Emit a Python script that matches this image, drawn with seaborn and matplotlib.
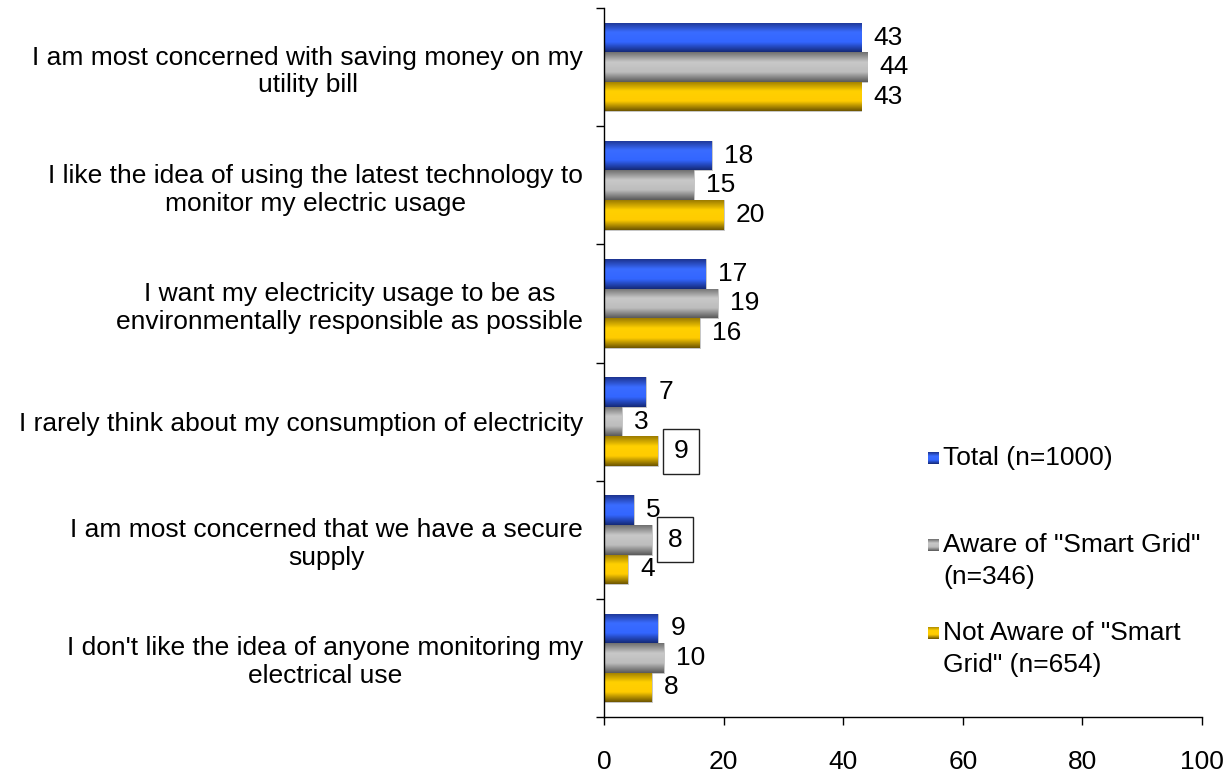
import numpy as np
import pandas as pd
import matplotlib
matplotlib.use("Agg")
import matplotlib.pyplot as plt
from matplotlib.colors import LinearSegmentedColormap
import seaborn as sns

statements = [
    "I am most concerned with saving money on my\nutility bill",
    "I like the idea of using the latest technology to\nmonitor my electric usage",
    "I want my electricity usage to be as\nenvironmentally responsible as possible",
    "I rarely think about my consumption of electricity",
    "I am most concerned that we have a secure\nsupply",
    "I don't like the idea of anyone monitoring my\nelectrical use",
]
groups = ["Total (n=1000)", "Aware of \"Smart Grid\"\n(n=346)", "Not Aware of \"Smart\nGrid\" (n=654)"]
total = [43, 18, 17, 7, 5, 9]
aware = [44, 15, 19, 3, 8, 10]
not_aware = [43, 20, 16, 9, 4, 8]
x_ticks = [0, 20, 40, 60, 80, 100]
# (group index, statement index) of the labels drawn in a box
boxed = [(2, 3), (1, 4)]

FS = 19

# dark edge, bright middle, dark edge for each series
shades = [
    ["#1d3490", "#3a6cff", "#3366ff", "#152a78"],
    ["#707070", "#c8c8c8", "#bdbdbd", "#5a5a5a"],
    ["#9c7c00", "#ffd000", "#ffcc00", "#6e5600"],
]
flat = ["#3366ff", "#b0b0b0", "#ffcc00"]

df = pd.DataFrame({
    "statement": statements * 3,
    "group": [g for g in groups for _ in statements],
    "value": total + aware + not_aware,
})

sns.set_theme(style="white")
plt.rcParams["font.family"] = ["Liberation Sans", "DejaVu Sans"]

fig = plt.figure(figsize=(12.27, 7.73), dpi=100)
ax = fig.add_axes([604 / 1227, 1 - 717 / 773, (1202 - 604) / 1227, (717 - 8) / 773])

sns.barplot(data=df, y="statement", x="value", hue="group", orient="h",
            palette=flat, width=0.75, legend=False, ax=ax, saturation=1)

# gradient fill clipped to each bar
for gi, cont in enumerate(ax.containers):
    cmap = LinearSegmentedColormap.from_list(f"g{gi}", shades[gi])
    grad = np.linspace(0, 1, 64).reshape(-1, 1)
    for bar in cont:
        x0, y0 = bar.get_x(), bar.get_y()
        w, h = bar.get_width(), bar.get_height()
        im = ax.imshow(grad, cmap=cmap, aspect="auto", origin="upper",
                       extent=[x0, x0 + w, y0 + h, y0], zorder=bar.get_zorder(),
                       interpolation="bilinear")
        im.set_clip_path(bar)
        bar.set_facecolor("none")
        bar.set_edgecolor("#9a9a9a")
        bar.set_linewidth(0.4)

ax.set_xlim(0, 100)
ax.set_ylim(len(statements) - 0.5, -0.5)

# value labels
series = [total, aware, not_aware]
for gi, cont in enumerate(ax.containers):
    texts = ax.bar_label(cont, labels=[str(v) for v in series[gi]], padding=9,
                         fontsize=FS, color="black")
    for si, t in enumerate(texts):
        if (gi, si) in boxed:
            t.xyann = (11.5, 0)
            t.set_bbox(dict(boxstyle="square,pad=0.4", fc="white", ec="#222222", lw=1.0))

# axes styling
for side in ["top", "right"]:
    ax.spines[side].set_visible(False)
for side in ["left", "bottom"]:
    ax.spines[side].set_color("black")
    ax.spines[side].set_linewidth(1.0)

ax.set_xticks(x_ticks)
ax.set_xticklabels([str(v) for v in x_ticks], fontsize=FS, color="black")
ax.tick_params(axis="x", direction="out", length=6, width=1, color="black", pad=18, bottom=True)

ax.set_yticks(range(len(statements)))
ax.set_yticklabels(statements, fontsize=FS, color="black")
ax.tick_params(axis="y", which="major", length=0, pad=15)
for lbl in ax.get_yticklabels():
    lbl.set_multialignment("center")
    lbl.set_linespacing(1.2)
ax.set_yticks(np.arange(-0.5, len(statements), 1), minor=True)
ax.tick_params(axis="y", which="minor", direction="out", length=6, width=1, color="black", left=True)
ax.set_xlabel("")
ax.set_ylabel("")

# legend
legend_rows = [(458, groups[0]), (545, groups[1]), (633, groups[2])]
for gi, (ypx, label) in enumerate(legend_rows):
    yf = 1 - ypx / 773
    cmap = LinearSegmentedColormap.from_list(f"l{gi}", shades[gi])
    lax = fig.add_axes([928 / 1227, yf - 6 / 773, 11 / 1227, 12 / 773])
    lax.imshow(np.linspace(0, 1, 32).reshape(-1, 1), cmap=cmap, aspect="auto")
    lax.set_axis_off()
    for k, line in enumerate(label.split("\n")):
        fig.text(943 / 1227, 1 - (ypx + 32 * k) / 773, line, fontsize=FS,
                 va="center", ha="left", color="black")

fig.savefig("out.png", dpi=100)
